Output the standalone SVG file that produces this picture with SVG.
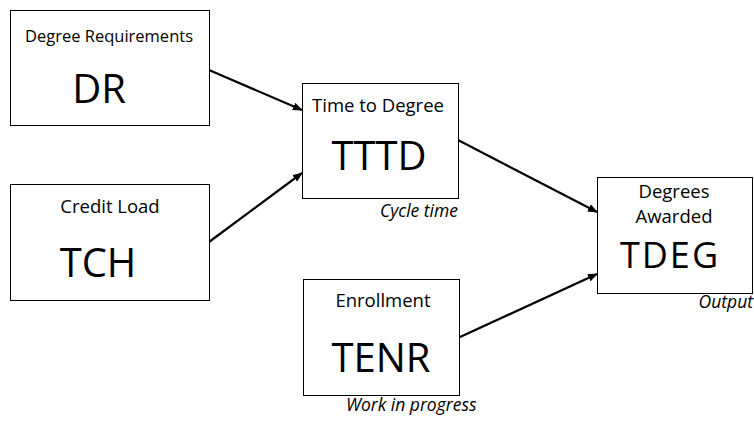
<svg xmlns="http://www.w3.org/2000/svg" width="754" height="421" viewBox="0 0 754 421">
<style>
.box{fill:#fff;stroke:#000;stroke-width:1}
.lbl{font-family:"Open Sans","Liberation Sans",sans-serif;font-size:18.5px;fill:#000;text-anchor:middle}
.big{font-family:"Open Sans","Liberation Sans",sans-serif;font-size:40px;fill:#000;text-anchor:middle}
.note{font-family:"Open Sans","Liberation Sans",sans-serif;font-size:17.5px;font-style:italic;fill:#000}
.conn{stroke:#000;stroke-width:2.2;fill:none;marker-end:url(#ah)}
</style>
<defs>
<marker id="ah" markerWidth="10" markerHeight="8" refX="9" refY="4" orient="auto" markerUnits="userSpaceOnUse">
<path d="M0,0 L10,4 L0,8 Z" fill="#000"/>
</marker>
</defs>
<rect width="754" height="421" fill="#fff"/>
<g id="connectors">
<line class="conn" x1="209" y1="70" x2="302" y2="110"/>
<line class="conn" x1="209" y1="242" x2="302" y2="173"/>
<line class="conn" x1="458" y1="140" x2="597" y2="212"/>
<line class="conn" x1="460" y1="337" x2="597" y2="274"/>
</g>
<g id="DR">
<rect class="box" x="10.5" y="10.5" width="199" height="115"/>
<text class="lbl" x="109" y="42" style="font-size:16.5px">Degree Requirements</text>
<text class="big" x="99" y="103">DR</text>
</g>
<g id="TCH">
<rect class="box" x="10.5" y="184.5" width="199" height="116"/>
<text class="lbl" x="110" y="213">Credit Load</text>
<text class="big" x="98" y="277">TCH</text>
</g>
<g id="TTTD">
<rect class="box" x="302.5" y="83.5" width="156" height="115"/>
<text class="lbl" x="378" y="112">Time to Degree</text>
<text class="big" x="379" y="170">TTTD</text>
<text class="note" x="458" y="217" text-anchor="end">Cycle time</text>
</g>
<g id="TENR">
<rect class="box" x="303.5" y="279.5" width="156" height="116"/>
<text class="lbl" x="383" y="307">Enrollment</text>
<text class="big" x="381" y="372">TENR</text>
<text class="note" x="346" y="411">Work in progress</text>
</g>
<g id="TDEG">
<rect class="box" x="597.5" y="177.5" width="155" height="116"/>
<text class="lbl" x="674" y="198">Degrees</text>
<text class="lbl" x="674" y="223">Awarded</text>
<text class="big" x="670" y="268" style="font-size:36px;letter-spacing:2px">TDEG</text>
<text class="note" x="753" y="308" text-anchor="end">Output</text>
</g>
</svg>
